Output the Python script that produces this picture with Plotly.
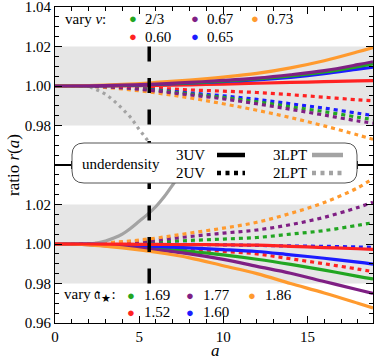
import plotly.graph_objects as go
from plotly.subplots import make_subplots

# scale factor a where curves were sampled
a_vals = [0, 2, 4, 6, 8, 10, 12, 14, 16, 18, 18.9]
a_lpt = [0, 1, 2, 2.5, 3, 3.5, 4, 4.5, 5, 5.5, 6, 6.5, 7, 7.5, 8]
a_mark = 5.6

colors = {"green": "#22a622", "red": "#ff2222", "blue": "#1c1cff",
          "purple": "#7f1f84", "orange": "#ff9a2e"}
gray = "#a3a3a3"

# top panel: vary nu
nu_labels = {"green": "2/3", "red": "0.60", "blue": "0.65", "purple": "0.67", "orange": "0.73"}
nu_3uv = {
    "red":    [1, 1.0000, 1.0001, 1.0003, 1.0006, 1.0010, 1.0014, 1.0018, 1.0022, 1.0026, 1.0027],
    "blue":   [1, 1.0001, 1.0003, 1.0008, 1.0014, 1.0022, 1.0031, 1.0044, 1.0062, 1.0085, 1.0095],
    "green":  [1, 1.0001, 1.0003, 1.0009, 1.0016, 1.0025, 1.0036, 1.0051, 1.0071, 1.0098, 1.0112],
    "orange": [1, 1.0002, 1.0008, 1.0018, 1.0030, 1.0045, 1.0064, 1.0092, 1.0128, 1.0173, 1.0195],
    "purple": [1, 1.0001, 1.0004, 1.0010, 1.0018, 1.0028, 1.0040, 1.0057, 1.0078, 1.0108, 1.0123],
}
nu_2uv = {
    "red":    [1, 1.0000, 0.9996, 0.9989, 0.9980, 0.9974, 0.9967, 0.9956, 0.9943, 0.9930, 0.9925],
    "blue":   [1, 0.9999, 0.9993, 0.9980, 0.9965, 0.9950, 0.9932, 0.9910, 0.9888, 0.9862, 0.9850],
    "green":  [1, 0.9999, 0.9993, 0.9978, 0.9960, 0.9942, 0.9920, 0.9895, 0.9870, 0.9842, 0.9830],
    "orange": [1, 0.9998, 0.9985, 0.9965, 0.9940, 0.9910, 0.9877, 0.9840, 0.9798, 0.9752, 0.9730],
    "purple": [1, 0.9999, 0.9991, 0.9975, 0.9955, 0.9935, 0.9910, 0.9882, 0.9853, 0.9823, 0.9812],
}
lpt2 = [1, 1, 0.9997, 0.9980, 0.9958, 0.9925, 0.9885, 0.9840, 0.9780, 0.9725, 0.9660, 0.9580, 0.9500, 0.9410, 0.9320]

# bottom panel: vary a_star
as_labels = {"green": "1.69", "red": "1.52", "blue": "1.60", "purple": "1.77", "orange": "1.86"}
as_3uv = {
    "green":  [1, 0.9998, 0.9990, 0.9978, 0.9963, 0.9945, 0.9923, 0.9897, 0.9868, 0.9836, 0.9823],
    "blue":   [1, 0.9999, 0.9995, 0.9988, 0.9980, 0.9972, 0.9962, 0.9945, 0.9928, 0.9908, 0.9898],
    "purple": [1, 0.9997, 0.9985, 0.9970, 0.9950, 0.9922, 0.9887, 0.9852, 0.9810, 0.9768, 0.9750],
    "orange": [1, 0.9996, 0.9980, 0.9958, 0.9930, 0.9890, 0.9850, 0.9800, 0.9752, 0.9700, 0.9676],
    "red":    [1, 1.0000, 0.9999, 0.9998, 0.9997, 0.9996, 0.9994, 0.9988, 0.9982, 0.9976, 0.9973],
}
as_2uv = {
    "green":  [1, 1.0001, 1.0004, 1.0010, 1.0018, 1.0025, 1.0033, 1.0050, 1.0068, 1.0095, 1.0108],
    "red":    [1, 0.9999, 0.9993, 0.9985, 0.9975, 0.9963, 0.9950, 0.9925, 0.9900, 0.9873, 0.9860],
    "blue":   [1, 1.0000, 1.0000, 0.9999, 0.9998, 0.9996, 0.9993, 0.9990, 0.9988, 0.9985, 0.9983],
    "purple": [1, 1.0001, 1.0008, 1.0020, 1.0038, 1.0055, 1.0071, 1.0098, 1.0135, 1.0185, 1.0212],
    "orange": [1, 1.0002, 1.0012, 1.0030, 1.0055, 1.0080, 1.0110, 1.0155, 1.0210, 1.0285, 1.0332],
}
lpt3 = [1, 1, 1.0000, 1.0005, 1.0015, 1.0030, 1.0050, 1.0080, 1.0115, 1.0150, 1.0190, 1.0240, 1.0300, 1.0365, 1.0440]

FONT = "Liberation Serif"
dotdash = "4px,4px"

fig = make_subplots(rows=2, cols=1, shared_xaxes=True, vertical_spacing=0)

def add(x, y, color, dash, row, width=3.2):
    fig.add_trace(go.Scatter(x=x, y=y, mode="lines", line=dict(color=color, width=width, dash=dash, shape="spline"),
                             showlegend=False, hoverinfo="skip"), row=row, col=1)

for c, ys in nu_2uv.items(): add(a_vals, ys, colors[c], dotdash, 1)
add(a_lpt, lpt2, gray, "3px,4px", 1)
for c, ys in nu_3uv.items(): add(a_vals, ys, colors[c], "solid", 1)
for c, ys in as_2uv.items(): add(a_vals, ys, colors[c], dotdash, 2)
add(a_lpt, lpt3, gray, "solid", 2)
for c, ys in as_3uv.items(): add(a_vals, ys, colors[c], "solid", 2)

# layout geometry (pixels)
W, H = 374, 360
L, R, T, B = 55, 1, 7, 37
def px(x): return (x - L) / (W - L - R)
def py(y): return (H - B - y) / (H - T - B)

# grey bands
for yr in ["y", "y2"]:
    fig.add_shape(type="rect", xref="x domain", yref=yr, x0=0, x1=1, y0=0.98, y1=1.02,
                  fillcolor="#e6e6e6", line_width=0, layer="below")
# dashed marker line
fig.add_shape(type="line", xref="x", yref="y", x0=a_mark, x1=a_mark, y0=1.02, y1=0.96,
              line=dict(color="black", width=3.5, dash="15px,16.5px"), layer="above")
fig.add_shape(type="line", xref="x2", yref="y2", x0=a_mark, x1=a_mark, y0=0.98, y1=1.04,
              line=dict(color="black", width=3.5, dash="15px,16.5px"), layer="above")

# central legend box (rounded)
bx0, bx1, by0, by1, rad = px(72), px(357), py(183), py(143), 12
rx, ry = rad / (W - L - R), rad / (H - T - B)
path = (f"M {bx0+rx},{by1} L {bx1-rx},{by1} Q {bx1},{by1} {bx1},{by1-ry} "
        f"L {bx1},{by0+ry} Q {bx1},{by0} {bx1-rx},{by0} L {bx0+rx},{by0} "
        f"Q {bx0},{by0} {bx0},{by0+ry} L {bx0},{by1-ry} Q {bx0},{by1} {bx0+rx},{by1} Z")
fig.add_shape(type="path", xref="paper", yref="paper", path=path, fillcolor="white",
              line=dict(color="#555555", width=1), layer="above")

def note(text, x, y, size=15, xanchor="left", color="black", **kw):
    fig.add_annotation(text=text, x=px(x), y=py(y), xref="paper", yref="paper", showarrow=False,
                       xanchor=xanchor, yanchor="middle", font=dict(family=FONT, size=size, color=color), **kw)

note("underdensity", 80, 164)
note("3UV", 174, 155)
note("2UV", 174, 173)
note("3LPT", 271, 155)
note("2LPT", 271, 173)
for (x0, x1, yy, col, dash) in [(217, 245, 155, "black", "solid"), (217, 245, 173, "black", "4px,4.5px"),
                                (312, 343, 155, gray, "solid"), (312, 343, 173, gray, "4px,4.5px")]:
    fig.add_shape(type="line", xref="paper", yref="paper", x0=px(x0), x1=px(x1), y0=py(yy), y1=py(yy),
                  line=dict(color=col, width=4.5, dash=dash), layer="above")

# panel legends
note("vary <i>ν</i>:", 63, 19)
top_pos = {"green": (133, 19), "purple": (195, 19), "orange": (255, 19), "red": (133, 37), "blue": (195, 37)}
for c, (x, y) in top_pos.items():
    note("●", x, y, size=13, xanchor="center", color=colors[c])
    note(nu_labels[c], x + 10, y)
note("vary 𝔞<sub>★</sub>:", 62, 295)
bot_pos = {"green": (131, 295), "purple": (190, 295), "orange": (252, 295), "red": (131, 312), "blue": (190, 312)}
for c, (x, y) in bot_pos.items():
    note("●", x, y, size=13, xanchor="center", color=colors[c])
    note(as_labels[c], x + 11, y)

# axis titles
note("ratio <i>r</i>(<i>a</i>)", 13, 165, size=17, xanchor="center", textangle=-90)
note("<i>a</i>", 215, 350, size=17, xanchor="center")

tickfont = dict(family=FONT, size=15, color="black")
axis_common = dict(showline=True, linecolor="black", linewidth=1, mirror="ticks", ticks="inside",
                   ticklen=7, tickcolor="black", showgrid=False, zeroline=False, tickfont=tickfont,
                   automargin=False, ticklabeloverflow="allow")
minor_y = dict(dtick=0.005, ticks="inside", ticklen=4, tickcolor="black")
fig.update_yaxes(range=[0.96, 1.04], tickvals=[0.98, 1.00, 1.02, 1.04], tickformat=".2f",
                 minor=minor_y, row=1, col=1, **axis_common)
fig.update_yaxes(range=[0.96, 1.04], tickvals=[0.96, 0.98, 1.00, 1.02], tickformat=".2f",
                 minor=minor_y, row=2, col=1, **axis_common)
fig.update_xaxes(range=[0, 18.9], tickvals=[0, 5, 10, 15],
                 minor=dict(dtick=1, ticks="inside", ticklen=4, tickcolor="black"), **axis_common)
fig.update_xaxes(showticklabels=False, row=1, col=1)

fig.update_layout(width=W, height=H, margin=dict(l=L, r=R, t=T, b=B), plot_bgcolor="white",
                  paper_bgcolor="white", showlegend=False, font=dict(family=FONT))
fig.write_html("out.html", config={"displayModeBar": False},
               post_script="document.body.style.margin='0';")
